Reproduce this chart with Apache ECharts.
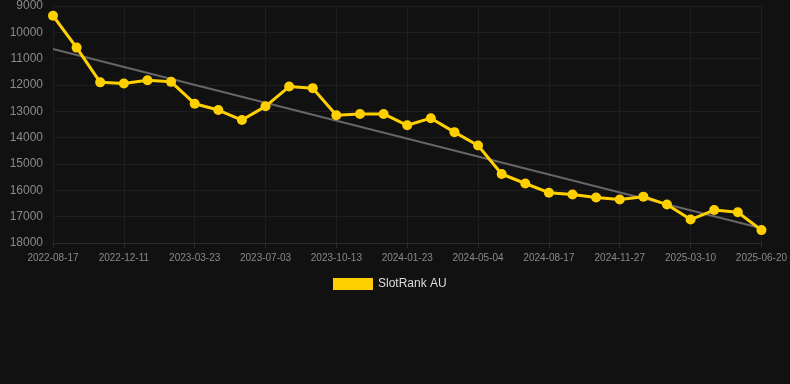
<!DOCTYPE html>
<html>
<head>
<meta charset="utf-8">
<script src="https://cdn.jsdelivr.net/npm/echarts@6/dist/echarts.min.js"></script>
<style>
html,body{margin:0;padding:0;background:#111111;}
#c{width:790px;height:384px;}
</style>
</head>
<body>
<div id="c"></div>
<script>
var categories = [
  '2022-08-17','2022-09-24','2022-11-02','2022-12-11','2023-01-14','2023-02-17',
  '2023-03-23','2023-04-26','2023-05-30','2023-07-03','2023-08-06','2023-09-09',
  '2023-10-13','2023-11-16','2023-12-20','2024-01-23','2024-02-26','2024-03-31',
  '2024-05-04','2024-06-07','2024-07-12','2024-08-17','2024-09-20','2024-10-24',
  '2024-11-27','2024-12-31','2025-02-04','2025-03-10','2025-04-13','2025-05-17',
  '2025-06-20'
];
var rankValues = [
  9370, 10580, 11900, 11940, 11820, 11880,
  12710, 12950, 13330, 12810, 12060, 12120,
  13150, 13100, 13100, 13530, 13260, 13790,
  14300, 15380, 15740, 16090, 16160, 16270,
  16350, 16240, 16540, 17110, 16750, 16830,
  17510
];
var trendStart = 10630;
var trendEnd = 17440;
var yTicks = { min: 9000, max: 18000, step: 1000 };

var trendData = [[0, trendStart], [categories.length - 1, trendEnd]];

var chart = echarts.init(document.getElementById('c'), null, { renderer: 'canvas' });
chart.setOption({
  backgroundColor: '#111111',
  animation: false,
  grid: { left: 53, right: 28, top: 6, bottom: 141, containLabel: false },
  legend: {
    data: ['SlotRank AU'],
    left: 328,
    top: 273,
    itemWidth: 40,
    itemHeight: 12,
    itemGap: 6,
    icon: 'rect',
    textStyle: { color: '#dddddd', fontSize: 12, fontFamily: 'Arial, Liberation Sans, sans-serif' }
  },
  xAxis: {
    type: 'category',
    data: categories,
    boundaryGap: false,
    axisLine: { show: true, lineStyle: { color: '#2a2a2a' } },
    axisTick: { show: true, interval: 2, length: 5, lineStyle: { color: '#2a2a2a' } },
    axisLabel: { interval: 2, color: '#8a8a8a', fontSize: 10, margin: 10, fontFamily: 'Arial, Liberation Sans, sans-serif' },
    splitLine: { show: true, interval: 2, lineStyle: { color: '#1e1e1e' } }
  },
  yAxis: {
    type: 'value',
    inverse: true,
    min: yTicks.min,
    max: yTicks.max,
    interval: yTicks.step,
    axisLine: { show: false },
    axisTick: { show: false },
    axisLabel: {
      color: '#8a8a8a', fontSize: 12, margin: 10,
      fontFamily: 'Arial, Liberation Sans, sans-serif',
      formatter: function (v) { return String(v); }
    },
    splitLine: { show: true, lineStyle: { color: '#1e1e1e' } }
  },
  series: [
    {
      name: 'Trend',
      type: 'line',
      data: trendData,
      symbol: 'none',
      lineStyle: { color: '#666666', width: 2 },
      z: 1,
      silent: true
    },
    {
      name: 'SlotRank AU',
      type: 'line',
      data: rankValues,
      symbol: 'circle',
      symbolSize: 10,
      itemStyle: { color: '#FFD000' },
      lineStyle: { color: '#FFD000', width: 3 },
      z: 2
    }
  ]
});
</script>
</body>
</html>
